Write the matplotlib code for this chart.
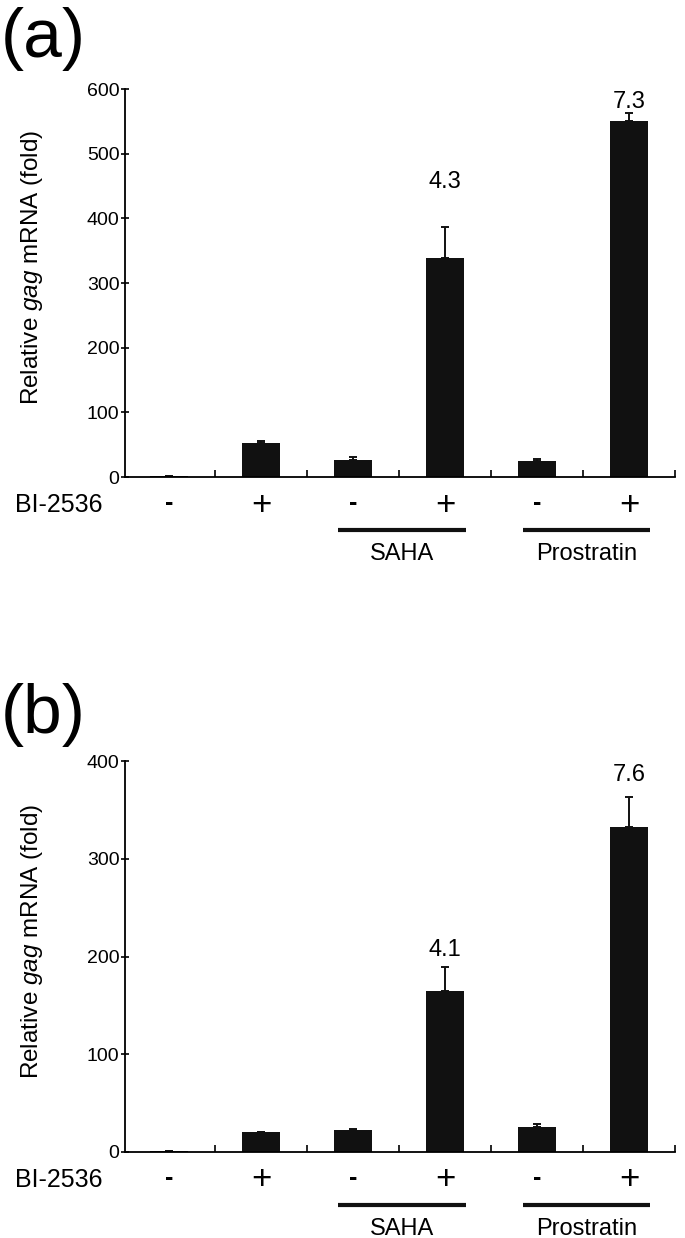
import matplotlib
matplotlib.use("Agg")
import matplotlib.pyplot as plt
import numpy as np

plt.rcParams["font.family"] = ["Liberation Sans", "DejaVu Sans"]
plt.rcParams["mathtext.fontset"] = "custom"
plt.rcParams["mathtext.it"] = "Liberation Sans:italic"
plt.rcParams["mathtext.rm"] = "Liberation Sans"

# data
bi_labels = ["-", "+", "-", "+", "-", "+"]
group_names = ["SAHA", "Prostratin"]

values_a = [1, 52, 27, 338, 24, 551]
errors_a = [0, 3, 3.5, 49, 4, 12]
fold_a = ["4.3", "7.3"]

values_b = [1, 20, 22, 165, 26, 332]
errors_b = [0, 0.6, 2, 24, 3, 31]
fold_b = ["4.1", "7.6"]

FIG_W, FIG_H = 685, 1238
fig = plt.figure(figsize=(FIG_W / 100, FIG_H / 100), dpi=100)


def draw_panel(rect_px, values, errors, ymax, step, folds, fold_y, letter, letter_base):
    left, top, right, bottom = rect_px
    ax = fig.add_axes([left / FIG_W, 1 - bottom / FIG_H,
                       (right - left) / FIG_W, (bottom - top) / FIG_H])
    h_px = bottom - top
    x = np.arange(len(values))

    ax.bar(x, values, width=0.41, color="#111111")
    ax.errorbar(x, values, yerr=[np.zeros(len(errors)), errors], fmt="none",
                ecolor="#111111", elinewidth=1.4, capsize=3, capthick=1.4)

    ax.set_xlim(-0.48, 5.5)
    ax.set_ylim(0, ymax)
    ax.set_yticks(np.arange(0, ymax + 1, step))
    ax.set_xticks([])
    ax.set_xticks(np.arange(0.5, 5.6, 1), minor=True)
    ax.tick_params(axis="x", which="minor", direction="in", length=5, width=1.2)
    ax.tick_params(axis="y", direction="inout", length=6, width=1.2,
                   labelsize=14, pad=1)

    for s in ["top", "right"]:
        ax.spines[s].set_visible(False)
    ax.spines["left"].set_linewidth(1.3)
    ax.spines["bottom"].set_linewidth(1.3)

    ax.set_ylabel(r"Relative $\mathit{gag}$ mRNA (fold)", fontsize=17.5)
    ax.yaxis.set_label_coords(-0.145, 0.54)

    # fold-change labels over the "+" bars
    for xi, txt, yy in zip([3, 5], folds, fold_y):
        ax.text(xi, yy, txt, ha="center", va="center", fontsize=17)

    trans = ax.get_xaxis_transform()
    ax.text(-0.2, -28 / h_px, "BI-2536", transform=ax.transAxes,
            ha="left", va="center", fontsize=18)
    for xi, lab in zip(x, bi_labels):
        if lab == "+":
            ax.text(xi, -28 / h_px, lab, transform=trans, ha="center", va="center",
                    fontsize=25)
        else:
            ax.text(xi, -26 / h_px, lab, transform=trans, ha="center", va="center",
                    fontsize=18, fontweight="bold")

    # group bars and names
    for (x0, x1), name in zip([(1.84, 3.23), (3.85, 5.23)], group_names):
        ax.plot([x0, x1], [-53 / h_px] * 2, transform=trans, color="#111111",
                lw=3, clip_on=False, solid_capstyle="butt")
        ax.text((x0 + x1) / 2, -77 / h_px, name, transform=trans,
                ha="center", va="center", fontsize=17)

    fig.text(1 / FIG_W, 1 - letter_base / FIG_H, letter, ha="left", va="baseline",
             fontsize=50)
    return ax


draw_panel((125, 89, 675, 477), values_a, errors_a, 600, 100,
           fold_a, [456, 580], "(a)", 57)
draw_panel((125, 761, 675, 1152), values_b, errors_b, 400, 100,
           fold_b, [207, 386], "(b)", 733)

fig.savefig("out.png", dpi=100)
